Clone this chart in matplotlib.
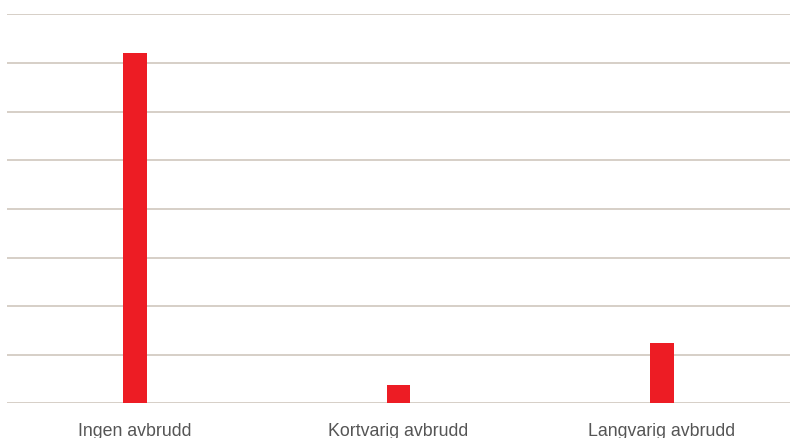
import matplotlib
matplotlib.use("Agg")
import matplotlib.pyplot as plt

categories = ["Ingen avbrudd", "Kortvarig avbrudd", "Langvarig avbrudd"]
values = [72.1, 3.8, 12.5]
y_ticks = [0, 10, 20, 30, 40, 50, 60, 70, 80]

grid_color = "#d3cbc3"
bar_color = "#ed1c24"

fig = plt.figure(figsize=(7.9, 4.38), dpi=100)
ax = fig.add_axes([7 / 790, 0.0792, 1 - 7 / 790, 0.8877])

x = list(range(len(categories)))
ax.bar(x, values, width=0.091, color=bar_color, zorder=3)

ax.set_xlim(-0.486, 2.486)
ax.set_ylim(0, 80)
ax.set_yticks(y_ticks)
ax.set_yticklabels([])
ax.tick_params(axis="y", length=0)
ax.yaxis.grid(True, color=grid_color, linewidth=1.3, zorder=0)

ax.set_xticks(x)
ax.set_xticklabels(categories, fontsize=12.8, color="#555555",
                   family=["Liberation Sans", "DejaVu Sans"])
ax.tick_params(axis="x", length=0, pad=14.5)

for s in ["top", "right", "left", "bottom"]:
    ax.spines[s].set_visible(False)

fig.savefig("out.png", dpi=100)
